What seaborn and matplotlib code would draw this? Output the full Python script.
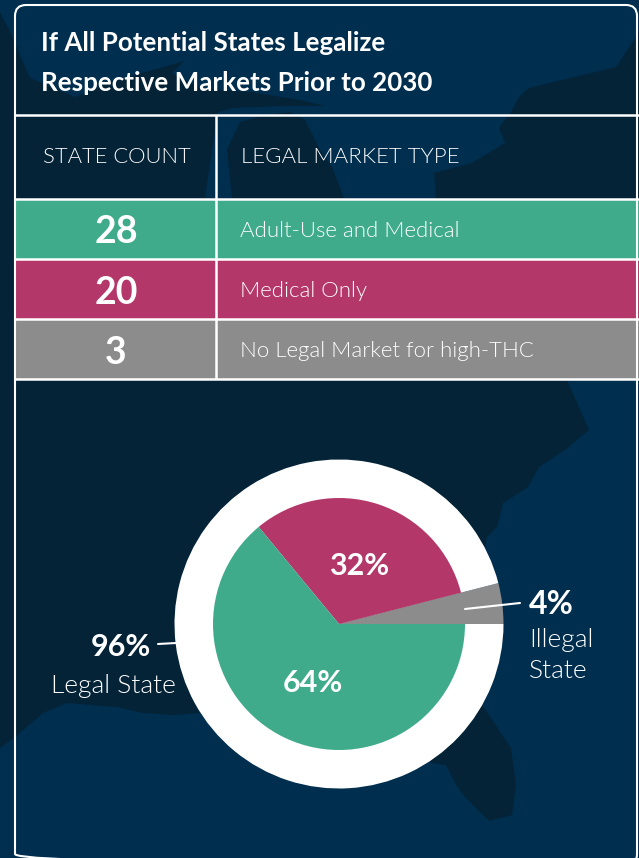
"""Legal market table and pie over the dark US map backdrop."""

import matplotlib

matplotlib.use("Agg")
import matplotlib.pyplot as plt
import pandas as pd
import seaborn as sns
from matplotlib.patches import FancyBboxPatch, Polygon

title_lines = ["If All Potential States Legalize", "Respective Markets Prior to 2030"]
col_headers = ["STATE COUNT", "LEGAL MARKET TYPE"]
state_counts = [28, 20, 3]
market_types = ["Adult-Use and Medical", "Medical Only", "No Legal Market for high-THC"]
share_labels = ["Illegal", "Medical Only", "Adult-Use and Medical"]
share_values = [4, 32, 64]
legal_share = 96
illegal_share = 4

GREEN = "#3FAB8B"
MAGENTA = "#B33769"
GREY = "#8C8C8C"
OCEAN = "#002E4E"
LAND = "#042337"
W, H = 639, 858

sns.set_theme(style="white")
plt.rcParams["font.family"] = ["Lato", "DejaVu Sans"]

fig = plt.figure(figsize=(W / 100, H / 100), dpi=100, facecolor=OCEAN)


def px_axes(left, top, right, bottom, zorder):
    return fig.add_axes(
        [left / W, 1 - bottom / H, (right - left) / W, (bottom - top) / H],
        zorder=zorder,
    )


# ---------------------------------------------------------------------------
# Backdrop map, traced by eye in pixels
# ---------------------------------------------------------------------------
bg = px_axes(0, 0, W, H, 0)
bg.set_xlim(0, W)
bg.set_ylim(H, 0)
bg.axis("off")
land_outline = [
    (0, 12), (10, 32), (30, 78), (75, 97), (110, 82), (160, 68), (184, 61),
    (172, 73), (200, 88), (250, 92), (300, 100), (325, 106), (280, 106),
    (232, 108), (218, 112), (212, 150), (205, 198), (232, 198), (227, 150),
    (240, 122), (262, 116), (290, 112), (305, 120), (320, 150), (332, 167),
    (344, 198), (436, 198), (434, 173), (472, 163), (505, 143), (499, 128),
    (511, 112), (519, 97), (529, 88), (616, 67), (636, 37), (639, 30),
    (639, 380), (567, 380), (578, 405), (589, 430), (565, 450), (539, 467),
    (528, 487), (503, 503), (497, 527), (487, 537), (470, 640), (482, 705),
    (511, 748), (516, 785), (512, 815), (489, 821), (466, 798), (456, 785),
    (446, 765), (433, 763), (300, 720), (200, 713), (173, 715), (143, 713),
    (117, 707), (67, 703), (43, 713), (15, 737), (0, 748),
]
bg.add_patch(Polygon(land_outline, closed=True, facecolor=LAND, edgecolor="none"))

# ---------------------------------------------------------------------------
# Table rows
# ---------------------------------------------------------------------------
rows = pd.DataFrame({"market": market_types, "full": [1, 1, 1]})
tab = px_axes(15, 198.5, W, 378.5, 1)
sns.barplot(
    data=rows, y="market", x="full", hue="market", orient="h", width=1,
    palette=[GREEN, MAGENTA, GREY], saturation=1, legend=False, ax=tab,
    linewidth=0,
)
tab.set_xlim(0, 1)
tab.set_ylim(2.5, -0.5)
tab.axis("off")

# ---------------------------------------------------------------------------
# Pie: white disc behind, grey slice runs out to the disc rim
# ---------------------------------------------------------------------------
cx, cy, half = 339, 624, 175
pie = px_axes(cx - half, cy - half, cx + half, cy + half, 2)
wedge_style = {"linewidth": 0, "edgecolor": "none"}
pie.pie([illegal_share, legal_share], colors=[GREY, "white"], radius=164.5,
        startangle=0, counterclock=True, wedgeprops=wedge_style)
pie.pie(share_values, colors=[GREY, MAGENTA, GREEN], radius=126,
        startangle=0, counterclock=True, wedgeprops=wedge_style)
pie.set_xlim(-half, half)
pie.set_ylim(-half, half)
pie.axis("off")

# ---------------------------------------------------------------------------
# Overlay: frame, rules, text
# ---------------------------------------------------------------------------
ov = px_axes(0, 0, W, H, 3)
ov.set_xlim(0, W)
ov.set_ylim(H, 0)
ov.axis("off")
ov.patch.set_alpha(0)

ov.add_patch(FancyBboxPatch((15, 5), 622, 860, boxstyle="round,pad=0,rounding_size=11",
                            facecolor="none", edgecolor="white", linewidth=1.5))
for y in [114.5, 198.5, 258.5, 318.5, 378.5]:
    ov.plot([15, W], [y, y], color="white", lw=1.8, solid_capstyle="butt")
ov.plot([216, 216], [114.5, 378.5], color="white", lw=1.8, solid_capstyle="butt")
ov.plot([465, 520], [609, 603], color="white", lw=1.5)
ov.plot([158, 176], [644, 643], color="white", lw=1.5)

for line, y in zip(title_lines, [51, 91]):
    ov.text(41, y, line, color="white", fontsize=18.7, fontweight="bold", va="baseline")
ov.text(43, 163, col_headers[0], color="white", fontsize=15.8, fontweight=300, va="baseline")
ov.text(241, 163, col_headers[1], color="white", fontsize=16, fontweight=300, va="baseline")

for count, y_mid in zip(state_counts, [229, 290, 350]):
    ov.text(116, y_mid, str(count), color="white", fontsize=27, fontweight="bold",
            ha="center", va="center_baseline")
for market, y_base in zip(market_types, [237, 297, 357]):
    ov.text(240, y_base, market, color="white", fontsize=16, fontweight=300, va="baseline")

ov.text(359, 575, f"{share_values[1]}%", color="white", fontsize=22, fontweight="bold",
        ha="center", va="baseline")
ov.text(313, 692, f"{share_values[2]}%", color="white", fontsize=22, fontweight="bold",
        ha="center", va="baseline")
ov.text(529, 614, f"{illegal_share}%", color="white", fontsize=23, fontweight="bold", va="baseline")
ov.text(529, 647, "Illegal", color="white", fontsize=19, fontweight=300, va="baseline")
ov.text(529, 678, "State", color="white", fontsize=19, fontweight=300, va="baseline")
ov.text(150.5, 656, f"{legal_share}%", color="white", fontsize=22, fontweight="bold",
        ha="right", va="baseline")
ov.text(176, 693, "Legal State", color="white", fontsize=19, fontweight=300, ha="right", va="baseline")

fig.savefig("out.png", dpi=100, facecolor=OCEAN)
